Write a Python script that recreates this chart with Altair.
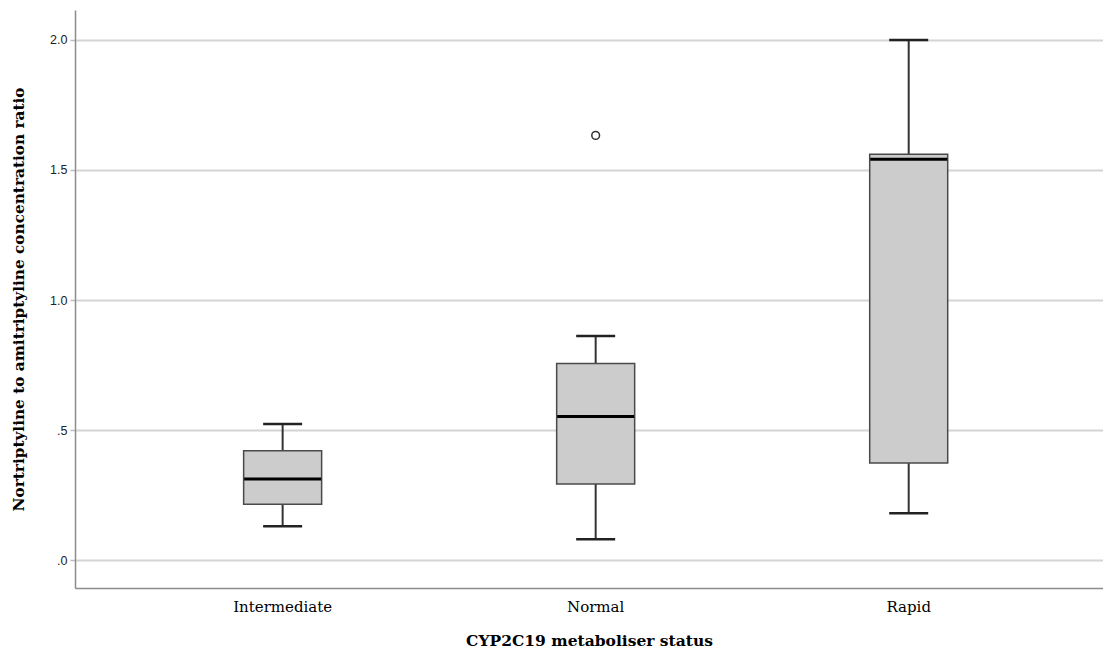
import altair as alt
import pandas as pd

groups = ["Intermediate", "Normal", "Rapid"]
lower_whisker = [0.13, 0.08, 0.18]
q1 = [0.215, 0.293, 0.374]
median = [0.312, 0.552, 1.541]
q3 = [0.421, 0.756, 1.560]
upper_whisker = [0.523, 0.862, 2.0]

outlier_groups = ["Normal"]
outlier_values = [1.633]

df = pd.DataFrame({
    "group": groups,
    "lo": lower_whisker,
    "q1": q1,
    "med": median,
    "q3": q3,
    "hi": upper_whisker,
})
df_out = pd.DataFrame({"group": outlier_groups, "value": outlier_values})

PLOT_W = 1028
PLOT_H = 578

x_scale = alt.Scale(domain=groups, paddingInner=0, paddingOuter=0.142, align=0.575)
y_scale = alt.Scale(domain=[-0.107, 2.115], nice=False, zero=False)

x_enc = alt.X(
    "group:N",
    scale=x_scale,
    sort=groups,
    axis=alt.Axis(
        title="CYP2C19 metaboliser status",
        titleFont="DejaVu Serif",
        titleFontWeight="bold",
        titleFontSize=15.5,
        titleColor="#000000",
        titleY=52,
        titleBaseline="middle",
        labelFont="DejaVu Serif",
        labelFontSize=15,
        labelColor="#000000",
        labelAngle=0,
        labelPadding=11,
        ticks=False,
        domainColor="#8c8c8c",
        domainWidth=1.5,
        grid=False,
    ),
)

y_axis = alt.Axis(
    title="Nortriptyline to amitriptyline concentration ratio",
    titleFont="DejaVu Serif",
    titleFontWeight="bold",
    titleFontSize=15.3,
    titleColor="#000000",
    titleX=-57,
    titleBaseline="middle",
    values=[0, 0.5, 1.0, 1.5, 2.0],
    labelExpr="datum.value == 0 ? '.0' : (datum.value == 0.5 ? '.5' : format(datum.value, '.1f'))",
    labelFont="Liberation Sans",
    labelFontSize=12.5,
    labelColor="#222222",
    labelPadding=3,
    tickSize=5,
    tickColor="#bdbdbd",
    tickWidth=1.5,
    grid=True,
    gridColor="#d4d4d4",
    gridWidth=2,
    domainColor="#8c8c8c",
    domainWidth=1.5,
)

base = alt.Chart(df)

whisker = base.mark_rule(color="#333333", strokeWidth=2).encode(
    x=x_enc,
    y=alt.Y("lo:Q", scale=y_scale, axis=y_axis),
    y2="hi:Q",
)

caps_lo = base.mark_tick(color="#222222", thickness=2.5, size=39, opacity=1).encode(
    x=alt.X("group:N", scale=x_scale, sort=groups),
    y=alt.Y("lo:Q", scale=y_scale),
)
caps_hi = base.mark_tick(color="#222222", thickness=2.5, size=39, opacity=1).encode(
    x=alt.X("group:N", scale=x_scale, sort=groups),
    y=alt.Y("hi:Q", scale=y_scale),
)

box = base.mark_bar(size=78, fill="#cccccc", stroke="#4a4a4a", strokeWidth=1.5, opacity=1).encode(
    x=alt.X("group:N", scale=x_scale, sort=groups),
    y=alt.Y("q1:Q", scale=y_scale),
    y2="q3:Q",
)

med = base.mark_tick(color="#000000", thickness=3, size=77, opacity=1).encode(
    x=alt.X("group:N", scale=x_scale, sort=groups),
    y=alt.Y("med:Q", scale=y_scale),
)

out = alt.Chart(df_out).mark_point(
    shape="circle", filled=False, size=60, stroke="#333333", strokeWidth=1.5, opacity=1
).encode(
    x=alt.X("group:N", scale=x_scale, sort=groups),
    y=alt.Y("value:Q", scale=y_scale),
)

chart = (
    alt.layer(whisker, caps_lo, caps_hi, box, med, out)
    .properties(
        width=PLOT_W,
        height=PLOT_H,
        autosize=alt.AutoSizeParams(type="none"),
        padding={"left": 67, "top": 2, "right": 0, "bottom": 62},
        background="#ffffff",
    )
    .configure_view(stroke=None, strokeWidth=0)
)

chart.save("out.html", embed_options={"renderer": "svg", "actions": False})
